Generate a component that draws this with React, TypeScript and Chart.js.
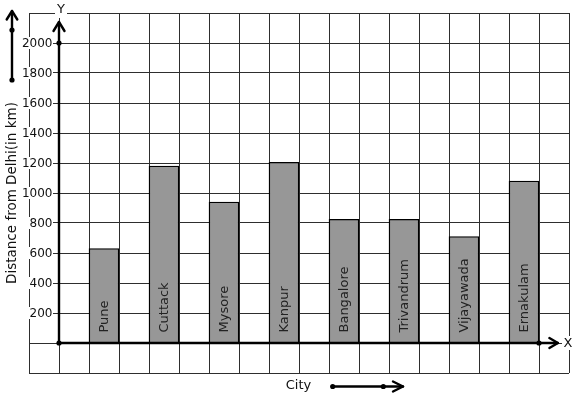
import React, { useEffect, useRef } from "react";
import { Chart, registerables } from "chart.js";

Chart.register(...registerables);

const categories = ["Pune", "Cuttack", "Mysore", "Kanpur", "Bangalore", "Trivandrum", "Vijayawada", "Ernakulam"];
const distances = [630, 1180, 940, 1205, 825, 825, 710, 1080];
const yTicks = [200, 400, 600, 800, 1000, 1200, 1400, 1600, 1800, 2000];
const yTitle = "Distance from Delhi(in km)";
const xTitle = "City";

const FONT = "'DejaVu Sans', sans-serif";

function dot(ctx: CanvasRenderingContext2D, x: number, y: number, r = 2.6) {
  ctx.beginPath();
  ctx.arc(x, y, r, 0, Math.PI * 2);
  ctx.fillStyle = "#000";
  ctx.fill();
}

function arrowLine(ctx: CanvasRenderingContext2D, x1: number, y1: number, x2: number, y2: number, head = 9, spread = 5) {
  ctx.strokeStyle = "#000";
  ctx.lineWidth = 2.4;
  ctx.lineCap = "round";
  ctx.lineJoin = "round";
  ctx.beginPath();
  ctx.moveTo(x1, y1);
  ctx.lineTo(x2, y2);
  ctx.stroke();
  const dx = x2 - x1, dy = y2 - y1;
  const len = Math.hypot(dx, dy);
  const ux = dx / len, uy = dy / len;
  const px = -uy, py = ux;
  ctx.beginPath();
  ctx.moveTo(x2 - ux * head + px * spread, y2 - uy * head + py * spread);
  ctx.lineTo(x2, y2);
  ctx.lineTo(x2 - ux * head - px * spread, y2 - uy * head - py * spread);
  ctx.stroke();
}

const overlay = {
  id: "overlay",
  afterDatasetsDraw(chart: any) {
    const ctx: CanvasRenderingContext2D = chart.ctx;
    const xs = chart.scales.x;
    const ys = chart.scales.y;
    const x0 = xs.getPixelForValue(0);
    const y0 = ys.getPixelForValue(0);
    ctx.save();

    // bar labels
    const meta = chart.getDatasetMeta(0);
    ctx.font = `13px ${FONT}`;
    ctx.textAlign = "left";
    ctx.textBaseline = "middle";
    meta.data.forEach((bar: any, i: number) => {
      ctx.save();
      ctx.translate(bar.x + 0.5, bar.base - 10);
      ctx.rotate(-Math.PI / 2);
      ctx.fillStyle = "#222";
      ctx.fillText(categories[i], 0, 0);
      ctx.restore();
    });

    // y tick labels with white backgrounds
    ctx.font = `12px ${FONT}`;
    ctx.textAlign = "right";
    ctx.textBaseline = "middle";
    yTicks.forEach((v) => {
      const py = ys.getPixelForValue(v);
      ctx.fillStyle = "#fff";
      ctx.fillRect(x0 - 40, py - 6, 34, 12);
      ctx.fillStyle = "#111";
      ctx.fillText(String(v), x0 - 6.5, py + 0.5);
    });

    // Y and X labels
    ctx.font = `13px ${FONT}`;
    ctx.textAlign = "center";
    ctx.fillStyle = "#fff";
    ctx.fillRect(x0 - 4, ys.top - 9, 12, 14);
    ctx.fillRect(xs.right - 7, y0 - 7, 14, 14);
    ctx.fillStyle = "#111";
    ctx.fillText("Y", x0 + 2, ys.top - 3);
    ctx.fillText("X", xs.right - 1, y0 + 0.5);

    // axes
    arrowLine(ctx, x0, y0, x0, ys.getPixelForValue(2140), 9, 5.5);
    arrowLine(ctx, x0, y0, xs.getPixelForValue(16.63), y0, 8.5, 5);
    dot(ctx, x0, ys.getPixelForValue(2000));
    dot(ctx, x0, y0);
    dot(ctx, xs.getPixelForValue(16), y0);

    // y title
    ctx.save();
    ctx.translate(12, (ys.top + ys.bottom) / 2);
    ctx.rotate(-Math.PI / 2);
    ctx.font = `13.5px ${FONT}`;
    ctx.fillStyle = "#111";
    ctx.textAlign = "center";
    ctx.textBaseline = "middle";
    ctx.fillText(yTitle, 0, 0);
    ctx.restore();

    // decorative arrows
    arrowLine(ctx, 12, 80, 12, 11, 8.5, 5.3);
    dot(ctx, 12, 30);
    dot(ctx, 12, 80);

    ctx.font = `13px ${FONT}`;
    ctx.fillStyle = "#111";
    ctx.textAlign = "center";
    ctx.textBaseline = "middle";
    ctx.fillText(xTitle, 298.5, 385.5);
    arrowLine(ctx, 332.7, 386.5, 403, 386.5, 10, 5);
    dot(ctx, 332.7, 386.5);
    dot(ctx, 383.3, 386.5);

    ctx.restore();
  },
};

export default function App() {
  const ref = useRef<HTMLCanvasElement | null>(null);
  useEffect(() => {
    if (!ref.current) return;
    const chart = new Chart(ref.current, {
      type: "bar",
      data: {
        datasets: [
          {
            data: distances.map((d, i) => ({ x: 1.5 + 2 * i, y: d })),
            backgroundColor: "#979797",
            borderColor: "#000",
            borderWidth: 1.4,
            barThickness: 30,
          } as any,
        ],
      },
      options: {
        responsive: false,
        animation: false,
        events: [],
        layout: { padding: { left: 29, top: 13, right: 8, bottom: 26 } },
        plugins: { legend: { display: false }, tooltip: { enabled: false }, title: { display: false } },
        scales: {
          x: {
            type: "linear",
            min: -1,
            max: 17,
            offset: false,
            ticks: { display: false, stepSize: 1 },
            grid: { color: "#2e2e2e", lineWidth: 1, drawTicks: false, offset: false },
            border: { display: false },
          },
          y: {
            type: "linear",
            min: -200,
            max: 2200,
            ticks: { display: false, stepSize: 200 },
            grid: { color: "#2e2e2e", lineWidth: 1, drawTicks: false },
            border: { display: false },
          },
        },
      },
      plugins: [overlay],
    });
    return () => chart.destroy();
  }, []);
  return (
    <div style={{ position: "fixed", left: 0, top: 0, width: 577, height: 399, background: "#fff" }}>
      <canvas ref={ref} width={577} height={399} style={{ display: "block", width: 577, height: 399 }} />
    </div>
  );
}
